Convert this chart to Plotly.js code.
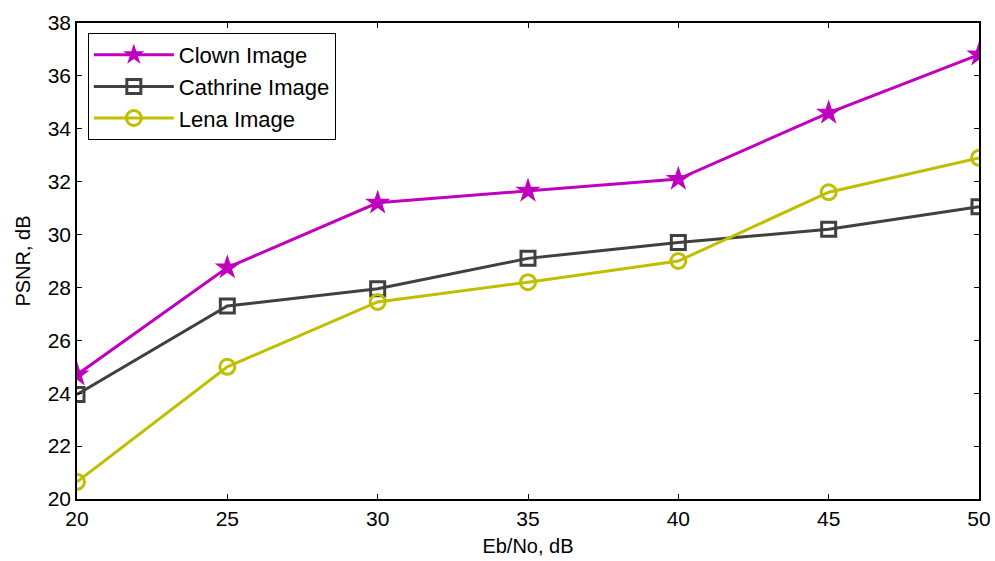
<!DOCTYPE html>
<html>
<head>
<meta charset="utf-8">
<script src="https://cdn.plot.ly/plotly-3.0.1.min.js"></script>
<style>html,body{margin:0;padding:0;background:#fff;}#chart{width:995px;height:561px;}</style>
</head>
<body>
<div id="chart"></div>
<script>
const ebno = [20, 25, 30, 35, 40, 45, 50];
const clown = [24.7, 28.75, 31.2, 31.65, 32.1, 34.6, 36.8];
const cathrine = [23.95, 27.3, 27.95, 29.1, 29.7, 30.2, 31.05];
const lena = [20.65, 25.0, 27.45, 28.2, 29.0, 31.6, 32.9];
const seriesNames = ["Clown Image", "Cathrine Image", "Lena Image"];
const xTicks = [20, 25, 30, 35, 40, 45, 50];
const yTicks = [20, 22, 24, 26, 28, 30, 32, 34, 36, 38];

const traces = [
  {x: ebno, y: clown, name: seriesNames[0], mode: 'lines+markers',
   line: {color: '#BF00BF', width: 3}, marker: {symbol: 'star', size: 19, color: '#BF00BF'}},
  {x: ebno, y: cathrine, name: seriesNames[1], mode: 'lines+markers',
   line: {color: '#404040', width: 3}, marker: {symbol: 'square-open', size: 14, color: '#404040', line: {width: 3}}},
  {x: ebno, y: lena, name: seriesNames[2], mode: 'lines+markers',
   line: {color: '#BFBF00', width: 3}, marker: {symbol: 'circle-open', size: 15, color: '#BFBF00', line: {width: 3}}}
];

const layout = {
  width: 995, height: 561,
  margin: {l: 77, r: 16, t: 23, b: 62},
  paper_bgcolor: '#fff', plot_bgcolor: '#fff',
  font: {family: 'Liberation Sans, Arial, sans-serif', color: '#000', size: 21},
  showlegend: true,
  legend: {x: 0.012, y: 0.979, xanchor: 'left', yanchor: 'top',
    bordercolor: '#000', borderwidth: 1, bgcolor: '#fff',
    font: {size: 22}, itemwidth: 80, tracegroupgap: 0},
  xaxis: {range: [20, 50], tickvals: xTicks, ticks: 'inside', ticklen: 5, tickcolor: '#000',
    showline: true, linecolor: '#000', linewidth: 1.5, mirror: 'ticks', showgrid: false, zeroline: false,
    tickfont: {size: 21},
    title: {text: 'Eb/No, dB', font: {size: 20}, standoff: 10}},
  yaxis: {range: [20, 38], tickvals: yTicks, ticks: 'inside', ticklen: 5, tickcolor: '#000',
    showline: true, linecolor: '#000', linewidth: 1.5, mirror: 'ticks', showgrid: false, zeroline: false,
    tickfont: {size: 21},
    title: {text: 'PSNR, dB', font: {size: 20}, standoff: 12}}
};

Plotly.newPlot('chart', traces, layout, {displayModeBar: false});
</script>
</body>
</html>
